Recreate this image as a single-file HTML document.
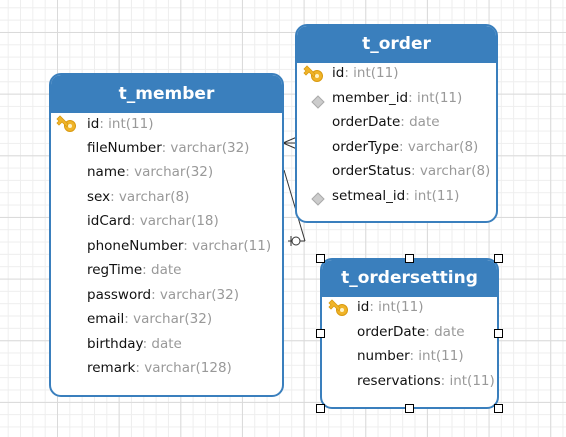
<!DOCTYPE html>
<html><head><meta charset="utf-8"><style>
body{margin:0;width:566px;height:437px;overflow:hidden;position:relative;background:#fff;font-family:"DejaVu Sans","Liberation Sans",sans-serif;}
.grid{position:absolute;left:0;top:0;width:566px;height:437px;
background-image:
linear-gradient(to right,#dadada 1px,transparent 1px),
linear-gradient(to bottom,#dadada 1px,transparent 1px),
linear-gradient(to right,#eeeeee 1px,transparent 1px),
linear-gradient(to bottom,#eeeeee 1px,transparent 1px);
background-size:61.67px 61.67px,61.67px 61.67px,12.333px 12.333px,12.333px 12.333px;
background-position:57px 0,0 32px,7.7px 0,0 7.3px;}
.t{position:absolute;border:2px solid #3a7fbd;border-radius:12px;background:#fff;box-sizing:border-box;overflow:hidden}
.h{background:#3a7fbd;color:#fff;font-weight:bold;font-size:17px;text-align:center;box-sizing:border-box}
.r{position:absolute;font-size:13.5px;color:#111;white-space:nowrap}
.r span{color:#999}
.h2{position:absolute;width:7px;height:7px;border:1px solid #000;background:#fff}
</style></head><body>
<div class="grid"></div>

<svg width="566" height="437" style="position:absolute;left:0;top:0">
<g stroke="#333" stroke-width="1" fill="none">
<line x1="283" y1="143" x2="297" y2="143"/>
<line x1="283" y1="143" x2="297" y2="137"/>
<line x1="283" y1="143" x2="297" y2="149"/>
<line x1="284" y1="170" x2="305" y2="241"/>
<line x1="305" y1="241" x2="288" y2="241"/>
<line x1="291" y1="236" x2="291" y2="246"/>
<circle cx="296" cy="241" r="4" fill="#fff"/>
</g></svg>

<div class="t" style="left:49px;top:73px;width:235px;height:324px">
<div class="h" style="height:38px;line-height:38px">t_member</div></div>
<div class="t" style="left:295px;top:24px;width:203px;height:199px">
<div class="h" style="height:37px;line-height:37px">t_order</div></div>
<div class="t" style="left:320px;top:258px;width:179px;height:151px">
<div class="h" style="height:37px;line-height:37px">t_ordersetting</div></div>

<svg width="566" height="437" style="position:absolute;left:0;top:0">
<defs><g id="k"><circle cx="6" cy="6" r="5.5" fill="#f0b429" stroke="#d99a10"/><circle cx="6" cy="6" r="2" fill="#fff3c4"/><path d="M9 9 L17 17 L14 20 L12 18 L10 20 L8 18 L11 15 L6 10Z" fill="#f0b429" stroke="#d99a10" stroke-width="0.8" transform="translate(-1,-1)"/></g>
<g id="d"><path d="M6 0 L12 6 L6 12 L0 6Z" fill="#ccc" stroke="#aaa"/></g></defs>
<use href="#k" transform="translate(58,114) rotate(90 9 9) scale(-1,1) translate(-18,0)"/>
<use href="#k" transform="translate(305,64) rotate(90 9 9) scale(-1,1) translate(-18,0)"/>
<use href="#k" transform="translate(330,298) rotate(90 9 9) scale(-1,1) translate(-18,0)"/>
<use href="#d" transform="translate(312,96)"/>
<use href="#d" transform="translate(312,193)"/>
</svg>

<div class="r" style="left:87px;top:116px">id<span>: int(11)</span></div>
<div class="r" style="left:87px;top:140px">fileNumber<span>: varchar(32)</span></div>
<div class="r" style="left:87px;top:164px">name<span>: varchar(32)</span></div>
<div class="r" style="left:87px;top:189px">sex<span>: varchar(8)</span></div>
<div class="r" style="left:87px;top:213px">idCard<span>: varchar(18)</span></div>
<div class="r" style="left:87px;top:238px">phoneNumber<span>: varchar(11)</span></div>
<div class="r" style="left:87px;top:262px">regTime<span>: date</span></div>
<div class="r" style="left:87px;top:287px">password<span>: varchar(32)</span></div>
<div class="r" style="left:87px;top:311px">email<span>: varchar(32)</span></div>
<div class="r" style="left:87px;top:336px">birthday<span>: date</span></div>
<div class="r" style="left:87px;top:360px">remark<span>: varchar(128)</span></div>

<div class="r" style="left:332px;top:65px">id<span>: int(11)</span></div>
<div class="r" style="left:332px;top:90px">member_id<span>: int(11)</span></div>
<div class="r" style="left:332px;top:114px">orderDate<span>: date</span></div>
<div class="r" style="left:332px;top:139px">orderType<span>: varchar(8)</span></div>
<div class="r" style="left:332px;top:163px">orderStatus<span>: varchar(8)</span></div>
<div class="r" style="left:332px;top:188px">setmeal_id<span>: int(11)</span></div>

<div class="r" style="left:357px;top:299px">id<span>: int(11)</span></div>
<div class="r" style="left:357px;top:324px">orderDate<span>: date</span></div>
<div class="r" style="left:357px;top:348px">number<span>: int(11)</span></div>
<div class="r" style="left:357px;top:373px">reservations<span>: int(11)</span></div>

<div class="h2" style="left:316px;top:254px"></div>
<div class="h2" style="left:405px;top:254px"></div>
<div class="h2" style="left:494px;top:254px"></div>
<div class="h2" style="left:316px;top:329px"></div>
<div class="h2" style="left:494px;top:329px"></div>
<div class="h2" style="left:316px;top:404px"></div>
<div class="h2" style="left:405px;top:404px"></div>
<div class="h2" style="left:494px;top:404px"></div>
</body></html>
